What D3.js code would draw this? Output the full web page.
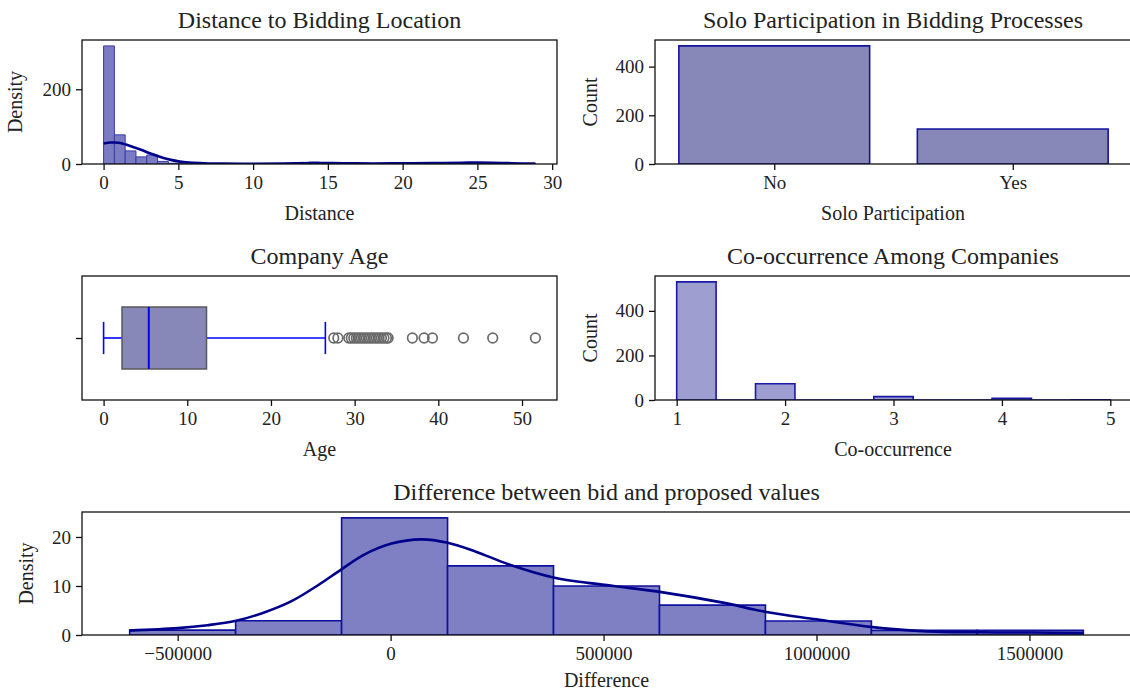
<!DOCTYPE html>
<html>
<head>
<meta charset="utf-8">
<script src="https://cdn.jsdelivr.net/npm/d3@7"></script>
<style>
  body { margin: 0; background: #fff; }
  svg text { font-family: "Liberation Serif", "Times New Roman", serif; fill: #222; }
</style>
</head>
<body>
<svg id="chart" width="1130" height="693"></svg>
<script>
// ---- data ----
const distanceRange = [0, 28.88];
const distanceDensity = [316, 78, 35, 19, 24, 7, 2, 1, 0.5, 0.3, 0, 0, 0, 0, 0, 0, 0, 0, 0.5, 5,
  0.5, 0, 0, 0, 0, 0, 0, 0, 0, 0, 0, 0, 0.5, 1, 1.5, 1, 0.5, 0, 0, 1];
const distanceKde = [[0, 55], [0.5, 57.5], [1, 57], [1.5, 52], [2, 45], [2.5, 38], [3, 30], [3.5, 23],
  [4, 16], [4.5, 11], [5, 7], [5.5, 4.5], [6, 3], [7, 1.5], [8, 1], [10, 0.8], [12, 1.5], [14, 2.5],
  [16, 2], [18, 1.5], [20, 2], [22, 2.5], [24, 3.5], [25, 4], [26, 3.5], [27, 2.5], [28, 1.5], [28.88, 1]];
const distanceTicksX = [0, 5, 10, 15, 20, 25, 30];
const distanceTicksY = [0, 200];

const soloCategories = ['No', 'Yes'];
const soloCounts = [485, 144];
const soloTicksY = [0, 200, 400];

const ageStats = { whiskerLow: 0, q1: 2.2, median: 5.4, q3: 12.3, whiskerHigh: 26.5 };
const ageOutliers = [27.5, 28.0, 29.3, 29.6, 29.9, 30.2, 30.5, 30.8, 31.1, 31.4, 31.7, 32.0, 32.3,
  32.6, 32.9, 33.2, 33.5, 33.8, 34.0, 36.9, 38.3, 39.3, 43.0, 46.5, 51.6];
const ageTicksX = [0, 10, 20, 30, 40, 50];

const coRange = [1, 5];
const coCounts = [530, 0, 73, 0, 0, 15, 0, 0, 8, 0, 1];
const coTicksX = [1, 2, 3, 4, 5];
const coTicksY = [0, 200, 400];

const diffRange = [-612700, 1626500];
const diffDensity = [1.0, 2.9, 23.9, 14.1, 10.0, 6.1, 2.85, 0.95, 0.95];
const diffKde = [[-614000, 0.9], [-500000, 1.4], [-430000, 2.0], [-363000, 2.9], [-300000, 4.5],
  [-235000, 6.8], [-175000, 9.9], [-117000, 13.3], [-64000, 16.3], [0, 18.6], [73000, 19.5],
  [134000, 18.8], [200000, 17.0], [278000, 14.4], [385000, 11.7],
  [524000, 10.0], [632000, 8.8], [780000, 6.6], [882000, 4.7], [1000000, 3.2], [1131000, 1.6],
  [1250000, 0.8], [1378000, 0.55], [1507000, 0.5], [1627000, 0.4]];
const diffTicksX = [-500000, 0, 500000, 1000000, 1500000];
const diffTicksY = [0, 10, 20];

// ---- drawing ----
const svg = d3.select('#chart');
svg.append('rect').attr('width', 1130).attr('height', 693).attr('fill', '#fff');

// padded domain like matplotlib's 5% margins
function pad(lo, hi, frac) {
	const m = (hi - lo) * frac;
	return [lo - m, hi + m];
}

function makePanel(box, xDomain, yDomain, opts) {
	const g = svg.append('g');
	const x = d3.scaleLinear().domain(xDomain).range([box.x0, box.x1]);
	const y = d3.scaleLinear().domain(yDomain).range([box.y1, box.y0]);
	const id = 'clip' + Math.round(box.x0) + '_' + Math.round(box.y0);
	svg.append('clipPath').attr('id', id)
		.append('rect').attr('x', box.x0).attr('y', box.y0)
		.attr('width', box.x1 - box.x0).attr('height', box.y1 - box.y0);
	const plot = g.append('g').attr('clip-path', 'url(#' + id + ')');

	const xAxis = d3.axisBottom(x).tickValues(opts.xTicks).tickSize(6).tickPadding(6)
		.tickFormat(opts.xFormat || d3.format('d'));
	const gx = g.append('g').attr('transform', 'translate(0,' + box.y1 + ')').call(xAxis);
	const yAxis = d3.axisLeft(y).tickValues(opts.yTicks).tickSize(6).tickPadding(5)
		.tickFormat(opts.yFormat || d3.format('d'));
	const gy = g.append('g').attr('transform', 'translate(' + box.x0 + ',0)').call(yAxis);
	[gx, gy].forEach((a) => {
		a.select('.domain').remove();
		a.selectAll('.tick line').attr('stroke', '#111').attr('stroke-width', 1.3);
		a.selectAll('.tick text').style('font-size', '19px').attr('fill', '#222');
	});

	g.append('rect').attr('x', box.x0).attr('y', box.y0)
		.attr('width', box.x1 - box.x0).attr('height', box.y1 - box.y0)
		.attr('fill', 'none').attr('stroke', '#111').attr('stroke-width', 1.3);

	const cx = (box.x0 + Math.min(box.x1, 1131)) / 2;
	g.append('text').attr('x', cx).attr('y', box.y0 - 12)
		.attr('text-anchor', 'middle').style('font-size', '24px').text(opts.title);
	g.append('text').attr('x', cx).attr('y', box.y1 + (opts.xLabelOffset || 56))
		.attr('text-anchor', 'middle').style('font-size', '20px').text(opts.xLabel);
	if (opts.yLabel) {
		g.append('text')
			.attr('transform', 'translate(' + opts.yLabelX + ',' + (box.y0 + box.y1) / 2 + ') rotate(-90)')
			.attr('text-anchor', 'middle').style('font-size', '20px').text(opts.yLabel);
	}
	return { plot, x, y };
}

function barPath(x, y, a, b, v) {
	const x0 = x(a), x1 = x(b), y0 = y(0), y1 = y(v);
	return 'M' + x0 + ',' + y0 + 'V' + y1 + 'H' + x1 + 'V' + y0 + 'Z';
}

function histBins(range, values) {
	const w = (range[1] - range[0]) / values.length;
	return values.map((v, i) => ({ a: range[0] + i * w, b: range[0] + (i + 1) * w, v }));
}

// 1. Distance histogram
{
	const p = makePanel({ x0: 82, x1: 557, y0: 40, y1: 164 },
		pad(distanceRange[0], distanceRange[1], 0.05), [0, 316 * 1.05],
		{ xTicks: distanceTicksX, yTicks: distanceTicksY, title: 'Distance to Bidding Location',
			xLabel: 'Distance', yLabel: 'Density', yLabelX: 22 });
	p.plot.selectAll('path.bar').data(histBins(distanceRange, distanceDensity)).join('path')
		.attr('class', 'bar')
		.attr('d', (d) => barPath(p.x, p.y, d.a, d.b, d.v))
		.attr('fill', '#7b7bc4').attr('stroke', '#3c3ca6').attr('stroke-width', 1);
	p.plot.append('path').datum(distanceKde)
		.attr('d', d3.line().x((d) => p.x(d[0])).y((d) => p.y(d[1])).curve(d3.curveCatmullRom.alpha(0.5)))
		.attr('fill', 'none').attr('stroke', '#00008b').attr('stroke-width', 2.6);
}

// 2. Solo participation countplot
{
	const p = makePanel({ x0: 655, x1: 1132, y0: 40, y1: 164 },
		[-0.5, 1.5], [0, 485 * 1.05],
		{ xTicks: [0, 1], xFormat: (i) => soloCategories[i], yTicks: soloTicksY,
			title: 'Solo Participation in Bidding Processes', xLabel: 'Solo Participation',
			yLabel: 'Count', yLabelX: 597 });
	p.plot.selectAll('path.bar').data(soloCounts).join('path')
		.attr('class', 'bar')
		.attr('d', (d, i) => barPath(p.x, p.y, i - 0.4, i + 0.4, d))
		.attr('fill', '#8787b8').attr('stroke', '#1414a0').attr('stroke-width', 1.6);
}

// 3. Company age boxplot
{
	const p = makePanel({ x0: 82, x1: 557, y0: 276, y1: 400 },
		pad(0, 51.6, 0.05), [0.5, -0.5],
		{ xTicks: ageTicksX, yTicks: [0], yFormat: () => '', title: 'Company Age', xLabel: 'Age' });
	const x = p.x, y = p.y, s = ageStats;
	const whisk = '#0000ff';
	p.plot.append('line').attr('x1', x(s.whiskerLow)).attr('x2', x(s.q1))
		.attr('y1', y(0)).attr('y2', y(0)).attr('stroke', whisk).attr('stroke-width', 1.6);
	p.plot.append('line').attr('x1', x(s.q3)).attr('x2', x(s.whiskerHigh))
		.attr('y1', y(0)).attr('y2', y(0)).attr('stroke', whisk).attr('stroke-width', 1.6);
	[s.whiskerLow, s.whiskerHigh].forEach((v) => {
		p.plot.append('line').attr('x1', x(v)).attr('x2', x(v))
			.attr('y1', y(-0.13)).attr('y2', y(0.13)).attr('stroke', whisk).attr('stroke-width', 1.6);
	});
	p.plot.append('rect').attr('x', x(s.q1)).attr('width', x(s.q3) - x(s.q1))
		.attr('y', y(-0.25)).attr('height', y(0.25) - y(-0.25))
		.attr('fill', '#8787b8').attr('stroke', '#5a5a5a').attr('stroke-width', 1.5);
	p.plot.append('line').attr('x1', x(s.median)).attr('x2', x(s.median))
		.attr('y1', y(-0.25)).attr('y2', y(0.25)).attr('stroke', whisk).attr('stroke-width', 2);
	p.plot.selectAll('circle.out').data(ageOutliers).join('circle')
		.attr('class', 'out')
		.attr('cx', (d) => x(d)).attr('cy', y(0)).attr('r', 4.8)
		.attr('fill', 'none').attr('stroke', '#6a6a6a').attr('stroke-width', 1.7);
}

// 4. Co-occurrence histogram
{
	const p = makePanel({ x0: 655, x1: 1132, y0: 276, y1: 400 },
		pad(coRange[0], coRange[1], 0.05), [0, 530 * 1.05],
		{ xTicks: coTicksX, yTicks: coTicksY, title: 'Co-occurrence Among Companies',
			xLabel: 'Co-occurrence', yLabel: 'Count', yLabelX: 597 });
	p.plot.selectAll('path.bar').data(histBins(coRange, coCounts)).join('path')
		.attr('class', 'bar')
		.attr('d', (d) => barPath(p.x, p.y, d.a, d.b, d.v))
		.attr('fill', '#9e9ed1').attr('stroke', '#1a1aa6').attr('stroke-width', 1.6);
}

// 5. Difference histogram
{
	const p = makePanel({ x0: 82, x1: 1131, y0: 512, y1: 635 },
		pad(diffRange[0], diffRange[1], 0.05), [0, 23.9 * 1.05],
		{ xTicks: diffTicksX, yTicks: diffTicksY, title: 'Difference between bid and proposed values',
			xLabel: 'Difference', yLabel: 'Density', yLabelX: 33, xLabelOffset: 52 });
	p.plot.selectAll('path.bar').data(histBins(diffRange, diffDensity)).join('path')
		.attr('class', 'bar')
		.attr('d', (d) => barPath(p.x, p.y, d.a, d.b, d.v))
		.attr('fill', '#7f7fc4').attr('stroke', '#10109e').attr('stroke-width', 1.6);
	p.plot.append('path').datum(diffKde)
		.attr('d', d3.line().x((d) => p.x(d[0])).y((d) => p.y(d[1])).curve(d3.curveCatmullRom.alpha(0.5)))
		.attr('fill', 'none').attr('stroke', '#00008b').attr('stroke-width', 2.6);
}
</script>
</body>
</html>
